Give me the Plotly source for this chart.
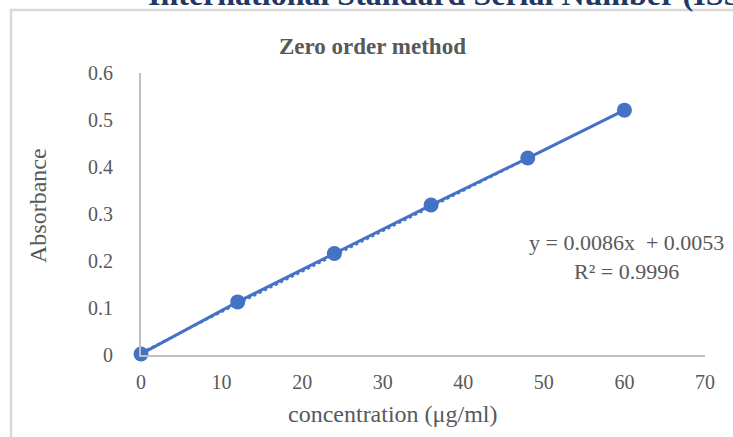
import plotly.graph_objects as go

# data
concentration = [0, 12, 24, 36, 48, 60]
absorbance = [0.002, 0.113, 0.216, 0.319, 0.419, 0.521]
slope = 0.0086
intercept = 0.0053
x_ticks = [0, 10, 20, 30, 40, 50, 60, 70]
y_ticks = [0, 0.1, 0.2, 0.3, 0.4, 0.5, 0.6]
y_tick_labels = ["0", "0.1", "0.2", "0.3", "0.4", "0.5", "0.6"]

W, H = 733, 437
L, R, T, B = 141, 28, 73, 82
pw, ph = W - L - R, H - T - B

def px(x):
    return (x - L) / pw

def py(y):
    return 1 + (T - y) / ph

serif = "Liberation Serif, Times New Roman, serif"
blue = "#4472c4"
gray = "#595959"

fig = go.Figure()
trend_x = [concentration[0], concentration[-1]]
trend_y = [slope * v + intercept for v in trend_x]
fig.add_trace(go.Scatter(x=trend_x, y=trend_y, mode="lines",
                         line=dict(color=blue, width=2, dash="dot"),
                         hoverinfo="skip", showlegend=False, cliponaxis=False))
fig.add_trace(go.Scatter(x=concentration, y=absorbance, mode="lines+markers",
                         line=dict(color=blue, width=3),
                         marker=dict(color=blue, size=15),
                         showlegend=False, cliponaxis=False))

fig.update_layout(
    width=W, height=H,
    margin=dict(l=L, r=R, t=T, b=B),
    paper_bgcolor="white", plot_bgcolor="white",
    font=dict(family=serif, color=gray),
    xaxis=dict(range=[0, 70], tickvals=x_ticks, showgrid=False, zeroline=False,
               showline=True, linecolor="#bfbfbf", linewidth=2,
               ticks="outside", ticklen=8, tickcolor="rgba(0,0,0,0)",
               tickfont=dict(size=20, color=gray), fixedrange=True),
    yaxis=dict(range=[0, 0.6], tickvals=y_ticks, ticktext=y_tick_labels,
               showgrid=False, zeroline=False,
               showline=True, linecolor="#bfbfbf", linewidth=2,
               ticks="outside", ticklen=22, tickcolor="rgba(0,0,0,0)",
               tickfont=dict(size=20, color=gray), fixedrange=True),
    shapes=[dict(type="rect", xref="paper", yref="paper",
                 x0=px(11), x1=px(760), y0=py(470), y1=py(10),
                 line=dict(color="#d9d9d9", width=2.5), fillcolor="rgba(0,0,0,0)",
                 layer="below")],
    annotations=[
        dict(text="<b>Zero order method</b>", xref="paper", yref="paper",
             x=px(372), y=py(47), showarrow=False, xanchor="center", yanchor="middle",
             font=dict(size=23, color=gray, family=serif)),
        dict(text="<b>International Standard Serial Number (ISSN)</b>", xref="paper", yref="paper",
             x=px(146), y=py(14), showarrow=False, xanchor="left", yanchor="bottom",
             font=dict(size=32, color="#1f3864", family=serif)),
        dict(text="Absorbance", xref="paper", yref="paper", textangle=-90,
             x=px(38), y=py(205), showarrow=False, xanchor="center", yanchor="middle",
             font=dict(size=24, color=gray, family=serif)),
        dict(text="concentration (μg/ml)", xref="paper", yref="paper",
             x=px(392), y=py(414), showarrow=False, xanchor="center", yanchor="middle",
             font=dict(size=24, color=gray, family=serif)),
        dict(text=f"y = {slope}x  + {intercept}<br>R² = 0.9996", xref="paper", yref="paper",
             x=px(626), y=py(257), showarrow=False, xanchor="center", yanchor="middle",
             align="center",
             font=dict(size=22, color=gray, family=serif)),
    ],
)

fig.write_html("out.html", config={"displayModeBar": False})
